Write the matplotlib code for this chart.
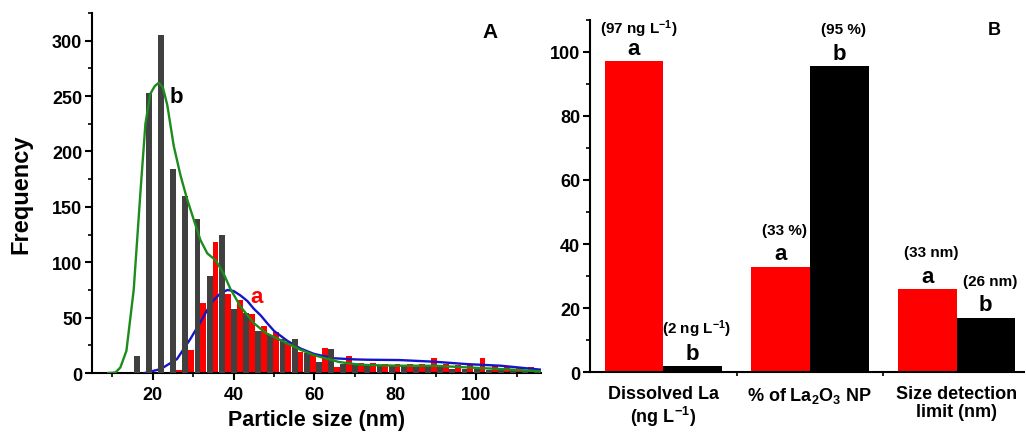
"""Particle size histogram (A) and La species comparison bars (B)."""

import matplotlib
matplotlib.use("Agg")
import matplotlib.pyplot as plt
from matplotlib.ticker import MultipleLocator, FixedLocator
import numpy as np

plt.rcParams["font.family"] = ["Liberation Sans", "DejaVu Sans"]
plt.rcParams["font.weight"] = "bold"
plt.rcParams["mathtext.fontset"] = "custom"
plt.rcParams["mathtext.rm"] = "Liberation Sans:bold"
plt.rcParams["mathtext.bf"] = "Liberation Sans:bold"
plt.rcParams["mathtext.it"] = "Liberation Sans:bold"
plt.rcParams["mathtext.default"] = "bf"

# --- panel A: size distribution, 3 nm bins ---
size_bins = np.arange(16.8, 117.0, 3.0)
counts_b = [15, 253, 305, 184, 160, 139, 88, 125, 58, 54,
            38, 34, 31, 31, 18, 10, 22, 8, 7, 6,
            7, 6, 6, 5, 6, 5, 4, 4, 4, 3,
            3, 3, 2, 2]
counts_a = [0, 0, 0, 3, 21, 63, 118, 71, 66, 53,
            42, 37, 28, 19, 17, 23, 5, 15, 9, 9,
            8, 8, 8, 8, 14, 8, 7, 8, 14, 6,
            5, 5, 5, 3]

fit_b_x = [9, 10.8, 12, 13.5, 15.3, 17, 18.2, 19.4, 20.5, 21.5, 22.5, 23.6,
           25.2, 26.9, 28.5, 30.1, 31.8, 33.5, 35.5, 37.5, 39.2, 41.7, 45, 48,
           52, 56.5, 60, 63, 66, 70, 73, 81, 90, 98, 106, 114, 116]
fit_b_y = [0, 0.5, 5, 20, 75, 165, 225, 252, 259, 262, 258, 242,
           205, 178, 157, 139, 120, 108, 102, 90, 76, 60, 45, 36,
           29, 21, 16, 13, 10, 8, 7.2, 6.6, 6.5, 5, 3.6, 2, 1.5]

fit_a_x = [18, 22, 26, 29.3, 31.8, 33.5, 35.1, 36.8, 38.5, 40, 41.7, 43.4,
           45, 46.7, 48.3, 50, 53.3, 56.6, 59.9, 64.8, 70, 73, 81, 89.6,
           97.8, 106, 114.3, 116]
fit_a_y = [0, 3.6, 12.6, 30.7, 46, 57, 66, 72, 75, 74, 70, 65,
           58, 52, 45, 38, 29, 22, 17.2, 13.3, 12.3, 12, 11.7, 10.2,
           8, 6.6, 3.6, 3]

# --- panel B: grouped bars ---
groups = ["Dissolved La\n(ng L$^{-1}$)", "% of La$_2$O$_3$ NP",
          "Size detection\nlimit (nm)"]
values_a = [97, 33, 26]
values_b = [2, 95.5, 17]
notes_a = ["(97 ng L$^{-1}$)", "(33 %)", "(33 nm)"]
notes_b = ["(2 ng L$^{-1}$)", "(95 %)", "(26 nm)"]

GRAY = "#404040"
RED = "#ff0000"

fig = plt.figure(figsize=(10.26, 4.35), dpi=100)
ax1 = fig.add_axes([0.0897, 0.1402, 0.4376, 0.8276])
ax2 = fig.add_axes([0.575, 0.1418, 0.423, 0.8106])

for ax in (ax1, ax2):
    ax.spines["top"].set_visible(False)
    ax.spines["right"].set_visible(False)
    for side in ("left", "bottom"):
        ax.spines[side].set_linewidth(1.5)
    ax.tick_params(which="major", direction="out", length=5, width=1.5,
                   labelsize=13)
    ax.tick_params(which="minor", direction="out", length=3, width=1.2)

# panel A
w = 1.45
ax1.bar(size_bins + w / 2, counts_a, width=w, color=RED, zorder=2)
ax1.plot(fit_a_x, fit_a_y, color="#1515c8", lw=1.7, zorder=3)
ax1.bar(size_bins - w / 2, counts_b, width=w, color=GRAY, zorder=4)
ax1.plot(fit_b_x, fit_b_y, color="#1c8c1c", lw=1.7, zorder=5)

ax1.set_xlim(5, 116)
ax1.set_ylim(0, 325)
ax1.xaxis.set_major_locator(MultipleLocator(20))
ax1.xaxis.set_minor_locator(MultipleLocator(10))
ax1.yaxis.set_major_locator(MultipleLocator(50))
ax1.yaxis.set_minor_locator(MultipleLocator(25))
ax1.tick_params(axis="x", pad=4)
ax1.tick_params(axis="y", pad=2)
ax1.set_xlabel("Particle size (nm)", fontsize=15.5, fontweight="bold",
               labelpad=5)
ax1.set_ylabel("Frequency", fontsize=17, fontweight="bold", labelpad=14)
ax1.text(25.8, 250, "b", fontsize=16, fontweight="bold", color="black",
         ha="center", va="center", zorder=6)
ax1.text(45.6, 69, "a", fontsize=16, fontweight="bold", color=RED,
         ha="center", va="center", zorder=6)
ax1.text(0.8875, 0.948, "A", transform=ax1.transAxes, fontsize=15,
         fontweight="bold", ha="center", va="center")

# panel B
x = np.arange(1, len(groups) + 1)
bw = 0.4
ax2.bar(x - bw / 2, values_a, width=bw, color=RED)
ax2.bar(x + bw / 2, values_b, width=bw, color="black")

for xi, v, note in zip(x - bw / 2, values_a, notes_a):
    ax2.text(xi, v + 2.3, "a", fontsize=16, fontweight="bold",
             ha="center", va="baseline")
    ax2.text(xi + 0.03, min(v + 10.3, 105.8), note, fontsize=11,
             fontweight="bold", ha="center", va="baseline")
for xi, v, note in zip(x + bw / 2, values_b, notes_b):
    ax2.text(xi, v + 2.3, "b", fontsize=16, fontweight="bold",
             ha="center", va="baseline")
    ax2.text(xi + 0.03, min(v + 10.3, 105.8), note, fontsize=11,
             fontweight="bold", ha="center", va="baseline")

ax2.set_xlim(0.5, 3.46)
ax2.set_ylim(0, 110)
ax2.yaxis.set_major_locator(MultipleLocator(20))
ax2.yaxis.set_minor_locator(MultipleLocator(10))
ax2.set_xticks(x)
ax2.set_xticklabels(groups, fontsize=13, fontweight="bold", linespacing=1.1)
ax2.xaxis.set_minor_locator(FixedLocator([1.5, 2.5]))
ax2.tick_params(axis="x", which="major", length=0, pad=9)
ax2.tick_params(axis="y", pad=2)
ax2.text(3.258, 107.1, "B", fontsize=13, fontweight="bold",
         ha="center", va="center")

fig.savefig("out.png", dpi=100)
